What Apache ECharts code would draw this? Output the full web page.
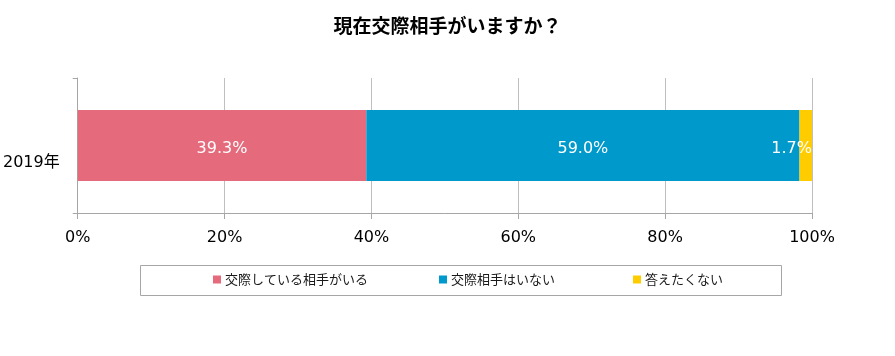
<!DOCTYPE html>
<html>
<head>
<meta charset="utf-8">
<script src="https://cdn.jsdelivr.net/npm/echarts@6/dist/echarts.min.js"></script>
<style>
html,body{margin:0;padding:0;background:#fff;}
#chart{width:895px;height:356px;}
</style>
</head>
<body>
<div id="chart"></div>
<script>
const title = '現在交際相手がいますか？';
const categories = ['2019年'];
const seriesNames = ['交際している相手がいる', '交際相手はいない', '答えたくない'];
const dating = [39.3];
const notDating = [59.0];
const noAnswer = [1.7];
const xTicks = [0, 20, 40, 60, 80, 100];

const colors = ['#E56B7C', '#0099CC', '#FFCC00'];
const numFont = '"DejaVu Sans", "Noto Sans CJK JP", sans-serif';
const jpFont = '"Noto Sans CJK JP", "DejaVu Sans", sans-serif';

const chart = echarts.init(document.getElementById('chart'), null, {renderer: 'canvas'});

const lbl = (pos, dist) => ({
  show: true, position: pos, distance: dist, color: '#fff', fontSize: 16, fontFamily: numFont,
  offset: [0, 3],
  formatter: p => p.value.toFixed(1) + '%'
});

const legendPos = [213, 439, 633];
const legends = seriesNames.map((n, i) => ({
  data: [n], left: legendPos[i], top: 273, itemWidth: 8, itemHeight: 8, itemGap: 0,
  padding: 0, icon: 'rect',
  textStyle: {fontSize: 13, color: '#1a1a1a', fontFamily: jpFont, padding: [0, 0, 0, -1]}
}));

chart.setOption({
  animation: false,
  title: {
    text: title, left: 'center', top: 11,
    textStyle: {fontSize: 19, fontWeight: 'bold', color: '#000', fontFamily: jpFont}
  },
  graphic: [{
    type: 'rect', shape: {x: 140.5, y: 265.5, width: 641, height: 30},
    style: {fill: 'none', stroke: '#A6A6A6', lineWidth: 1}, silent: true
  }],
  legend: legends,
  grid: {left: 77, right: 83, top: 78, bottom: 143, containLabel: false},
  xAxis: {
    type: 'value', min: xTicks[0], max: xTicks[xTicks.length - 1], interval: 20,
    axisLine: {show: true, lineStyle: {color: '#A6A6A6'}},
    axisTick: {show: true, length: 6, lineStyle: {color: '#A6A6A6'}},
    splitLine: {show: true, lineStyle: {color: '#BFBFBF', width: 1}},
    axisLabel: {formatter: '{value}%', color: '#000', fontSize: 16, fontFamily: numFont, margin: 17}
  },
  yAxis: {
    type: 'category', data: categories,
    axisLine: {show: true, lineStyle: {color: '#A6A6A6'}},
    axisTick: {show: true, length: 5, lineStyle: {color: '#A6A6A6'}},
    axisLabel: {color: '#000', fontSize: 16, fontFamily: numFont, margin: 18, lineHeight: 34,
      formatter: v => '\n' + v}
  },
  series: [
    {name: seriesNames[0], type: 'bar', stack: 'all', data: dating, barWidth: 71,
     itemStyle: {color: colors[0]}, label: lbl('inside', 5)},
    {name: seriesNames[1], type: 'bar', stack: 'all', data: notDating, barWidth: 71,
     itemStyle: {color: colors[1]}, label: lbl('inside', 5)},
    {name: seriesNames[2], type: 'bar', stack: 'all', data: noAnswer, barWidth: 71,
     itemStyle: {color: colors[2]}, label: lbl('insideRight', 0)}
  ]
});
</script>
</body>
</html>
